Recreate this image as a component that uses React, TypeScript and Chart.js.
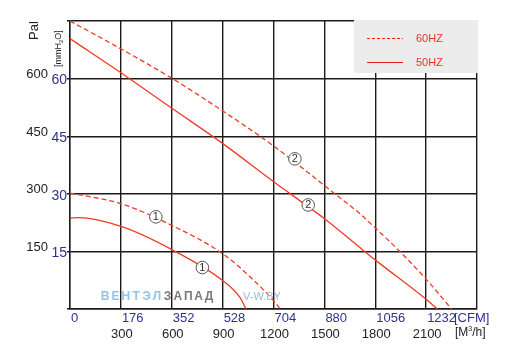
import React, { useEffect, useRef } from 'react';
import { Chart, registerables } from 'chart.js';
Chart.register(...registerables);

// Axis tick labels
const cfmTicks = [0, 176, 352, 528, 704, 880, 1056, 1232];
const m3hTicks = [300, 600, 900, 1200, 1500, 1800, 2100];
const mmTicks = [15, 30, 45, 60];
const paTicks = [150, 300, 450, 600];

// Curve 1 (60 Hz, dashed)
const c1_60_cfm = [0, 177, 354, 530, 634, 692, 728];
const c1_60_mm = [30.2, 27.4, 21.7, 14.3, 7.6, 3.2, 0];
// Curve 1 (50 Hz, solid)
const c1_50_cfm = [0, 30, 177, 354, 530, 588, 609];
const c1_50_mm = [23.7, 23.8, 21.5, 15.4, 7.3, 3.0, 0];
// Curve 2 (60 Hz, dashed)
const c2_60_cfm = [0, 177, 354, 530, 707, 918, 1003, 1059, 1142, 1234, 1320];
const c2_60_mm = [75, 67.7, 60, 51.5, 42.3, 29.9, 24.8, 20.9, 14.9, 7.6, 0];
// Curve 2 (50 Hz, solid)
const c2_50_cfm = [0, 196, 354, 530, 707, 884, 1003, 1059, 1234, 1271];
const c2_50_mm = [70.4, 60.5, 52.2, 43, 33, 23.3, 16, 12.6, 2.4, 0];

// Circled curve numbers
const markerText = ['1', '1', '2', '2'];
const markerCfm = [297, 458, 778, 824];
const markerMm = [24, 10.8, 39.1, 27.1];

const legendLabels = ['60HZ', '50HZ'];

const RED = '#ef3b24';
const BLUE = '#2e3192';
const FONT = '"Liberation Sans", Arial, sans-serif';

const pts = (xs: number[], ys: number[]) => xs.map((x, i) => ({ x, y: ys[i] }));

export default function App() {
  const ref = useRef<HTMLCanvasElement>(null);
  useEffect(() => {
    const decor = {
      id: 'decor',
      afterDraw(chart: any) {
        const { ctx, scales } = chart;
        const x = scales.x;
        const y = scales.y;
        ctx.save();
        // markers
        for (let i = 0; i < markerText.length; i++) {
          const px = x.getPixelForValue(markerCfm[i]);
          const py = y.getPixelForValue(markerMm[i]);
          ctx.beginPath();
          ctx.arc(px, py, 6.3, 0, Math.PI * 2);
          ctx.fillStyle = 'rgba(255,255,255,0.85)';
          ctx.fill();
          ctx.strokeStyle = '#555';
          ctx.lineWidth = 1;
          ctx.stroke();
          ctx.fillStyle = '#333';
          ctx.font = `11px ${FONT}`;
          ctx.textAlign = 'center';
          ctx.textBaseline = 'middle';
          ctx.fillText(markerText[i], px, py + 0.5);
        }
        // x tick labels CFM
        ctx.font = `13px ${FONT}`;
        ctx.textBaseline = 'middle';
        ctx.fillStyle = BLUE;
        ctx.textAlign = 'left';
        cfmTicks.forEach((v) => {
          ctx.fillText(String(v), x.getPixelForValue(v) + 1, 318);
        });
        ctx.fillText('[CFM]', 454, 318);
        // m3/h
        ctx.fillStyle = '#222';
        ctx.textAlign = 'center';
        m3hTicks.forEach((v) => {
          ctx.fillText(String(v), x.getPixelForValue((v * 176) / 300) + 1, 334);
        });
        ctx.textAlign = 'left';
        ctx.font = `12px ${FONT}`;
        ctx.fillText('[M', 455, 333);
        let w = ctx.measureText('[M').width;
        ctx.font = `7px ${FONT}`;
        ctx.fillText('3', 455 + w, 329);
        const w3 = ctx.measureText('3').width;
        ctx.font = `12px ${FONT}`;
        ctx.fillText('/h]', 455 + w + w3, 333);
        // y tick labels
        ctx.textAlign = 'right';
        ctx.fillStyle = '#222';
        ctx.font = `13px ${FONT}`;
        paTicks.forEach((v, i) => {
          ctx.fillText(String(v), 48, y.getPixelForValue(mmTicks[i]) - 4);
        });
        ctx.fillStyle = BLUE;
        ctx.font = `14px ${FONT}`;
        mmTicks.forEach((v) => {
          ctx.fillText(String(v), 67, y.getPixelForValue(v) + 2);
        });
        // axis titles (rotated)
        ctx.save();
        ctx.translate(38, 40);
        ctx.rotate(-Math.PI / 2);
        ctx.textAlign = 'left';
        ctx.textBaseline = 'alphabetic';
        ctx.fillStyle = '#222';
        ctx.font = `13px ${FONT}`;
        ctx.fillText('Pal', 0, 0);
        ctx.restore();
        ctx.save();
        ctx.translate(61, 67);
        ctx.rotate(-Math.PI / 2);
        ctx.textAlign = 'left';
        ctx.textBaseline = 'alphabetic';
        ctx.fillStyle = '#222';
        ctx.font = `9px ${FONT}`;
        ctx.fillText('[mmH', 0, 0);
        w = ctx.measureText('[mmH').width;
        ctx.font = `6px ${FONT}`;
        ctx.fillText('2', w, 2);
        const w2 = ctx.measureText('2').width;
        ctx.font = `9px ${FONT}`;
        ctx.fillText('O]', w + w2, 0);
        ctx.restore();
        // legend box
        ctx.fillStyle = '#ebeceb';
        ctx.fillRect(354, 20, 124, 53);
        ctx.strokeStyle = '#f01c1c';
        ctx.lineWidth = 1;
        ctx.setLineDash([3, 2]);
        ctx.beginPath();
        ctx.moveTo(367, 38.5);
        ctx.lineTo(403, 38.5);
        ctx.stroke();
        ctx.setLineDash([]);
        ctx.beginPath();
        ctx.moveTo(367, 62.5);
        ctx.lineTo(403, 62.5);
        ctx.stroke();
        ctx.fillStyle = '#e8302a';
        ctx.font = `11px ${FONT}`;
        ctx.textAlign = 'left';
        ctx.textBaseline = 'middle';
        ctx.fillText(legendLabels[0], 416, 39);
        ctx.fillText(legendLabels[1], 416, 63);
        // watermark
        ctx.font = `bold 12px ${FONT}`;
        ctx.textAlign = 'center';
        const wm = 'ВЕНТЭЛЗАПАД';
        for (let i = 0; i < wm.length; i++) {
          ctx.fillStyle = i < 6 ? '#8fc6ec' : '#7a7a7a';
          ctx.fillText(wm[i], 105 + i * 10.4, 297);
        }
        ctx.font = `11px ${FONT}`;
        ctx.textAlign = 'left';
        ctx.fillStyle = '#9db8d2';
        ctx.fillText('V-W.BY', 243, 297);
        ctx.restore();
      },
    };

    const ds = (xs: number[], ys: number[], dashed: boolean) => ({
      data: pts(xs, ys),
      borderColor: RED,
      borderWidth: 1.3,
      borderDash: dashed ? [5, 3] : [],
      pointRadius: 0,
      fill: false,
      cubicInterpolationMode: 'monotone' as const,
    });

    const chart = new Chart(ref.current!, {
      type: 'line',
      data: {
        datasets: [
          ds(c1_60_cfm, c1_60_mm, true),
          ds(c1_50_cfm, c1_50_mm, false),
          ds(c2_60_cfm, c2_60_mm, true),
          ds(c2_50_cfm, c2_50_mm, false),
        ],
      },
      options: {
        responsive: false,
        animation: false,
        layout: { padding: { left: 67, top: 21, right: 39, bottom: 53 } },
        plugins: { legend: { display: false }, tooltip: { enabled: false } },
        scales: {
          x: {
            type: 'linear',
            min: 0,
            max: 1408,
            ticks: { stepSize: 176, display: false },
            grid: { color: '#1e1a1a', lineWidth: 1.4, drawTicks: false },
            border: { color: '#1e1a1a', width: 1.4 },
          },
          y: {
            type: 'linear',
            min: 0,
            max: 75,
            ticks: { stepSize: 15, display: false },
            grid: { color: '#1e1a1a', lineWidth: 1.4, drawTicks: true, tickLength: 3 },
            border: { color: '#1e1a1a', width: 1.4 },
          },
        },
      },
      plugins: [decor],
    });
    return () => chart.destroy();
  }, []);
  return (
    <canvas
      ref={ref}
      width={516}
      height={362}
      style={{ position: 'absolute', left: 0, top: 0, width: 516, height: 362 }}
    />
  );
}
